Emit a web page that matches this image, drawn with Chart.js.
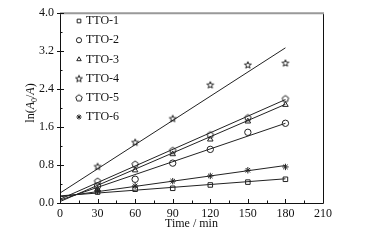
<!DOCTYPE html>
<html>
<head>
<meta charset="utf-8">
<script src="https://cdn.jsdelivr.net/npm/chart.js@4.4.0/dist/chart.umd.min.js"></script>
<style>
  html, body { margin: 0; padding: 0; background: #fff; }
  #wrap { width: 381px; height: 240px; }
</style>
</head>
<body>
<div id="wrap"><canvas id="c" width="381" height="240"></canvas></div>
<script>
// time points (min)
const times = [30, 60, 90, 120, 150, 180];
const seriesNames = ["TTO-1", "TTO-2", "TTO-3", "TTO-4", "TTO-5", "TTO-6"];

// ln(A0/A) values
const tto1 = [0.23, 0.29, 0.31, 0.38, 0.44, 0.50];
const tto2 = [0.36, 0.50, 0.84, 1.13, 1.49, 1.68];
const tto3 = [0.29, 0.69, 1.03, 1.34, 1.72, 2.07];
const tto4 = [0.77, 1.28, 1.78, 2.49, 2.91, 2.95];
const tto5 = [0.46, 0.82, 1.11, 1.44, 1.80, 2.20];
const tto6 = [0.25, 0.36, 0.46, 0.57, 0.69, 0.76];

// fitted lines: value at t=0 and at t=180
const fitX = [0, 180];
const fitStart = [0.15, 0.06, 0.03, 0.21, 0.08, 0.13];
const fitEnd = [0.51, 1.68, 2.08, 3.27, 2.18, 0.79];

const xTicks = [0, 30, 60, 90, 120, 150, 180, 210];
const yTicks = [0.0, 0.8, 1.6, 2.4, 3.2, 4.0];

const FONT = "Liberation Serif, Times New Roman, serif";

// small canvases for the star and pentagon markers
function makeMarker(sides, outer, inner) {
  const c = document.createElement("canvas");
  c.width = 10; c.height = 10;
  const g = c.getContext("2d");
  g.strokeStyle = "#222";
  g.lineWidth = 1;
  g.beginPath();
  const n = inner ? sides * 2 : sides;
  for (let i = 0; i < n; i++) {
    const r = inner && i % 2 === 1 ? inner : outer;
    const a = -Math.PI / 2 + i * Math.PI * 2 / n;
    const px = 5 + r * Math.cos(a), py = 5.3 + r * Math.sin(a);
    if (i === 0) g.moveTo(px, py); else g.lineTo(px, py);
  }
  g.closePath();
  g.stroke();
  return c;
}
const starImg = makeMarker(5, 3.6, 1.5);
const pentImg = makeMarker(5, 3.4, 0);

const styles = ["rect", "circle", "triangle", starImg, pentImg, "star"];
const allData = [tto1, tto2, tto3, tto4, tto5, tto6];

const datasets = [];
allData.forEach(function (vals, i) {
  datasets.push({
    type: "scatter",
    label: seriesNames[i],
    data: times.map(function (t, k) { return { x: t, y: vals[k] }; }),
    pointStyle: styles[i],
    pointRadius: 3.2,
    borderColor: "#222",
    backgroundColor: "rgba(0,0,0,0)",
    borderWidth: 1,
    showLine: false
  });
});
fitStart.forEach(function (s, i) {
  datasets.push({
    type: "line",
    label: "fit" + i,
    data: [{ x: fitX[0], y: s }, { x: fitX[1], y: fitEnd[i] }],
    borderColor: "#222",
    borderWidth: 1,
    pointRadius: 0,
    fill: false
  });
});

// frame, inward ticks, legend and axis titles
const decor = {
  id: "decor",
  afterDraw: function (chart) {
    const ctx = chart.ctx;
    const a = chart.chartArea;
    const xs = chart.scales.x, ys = chart.scales.y;
    ctx.save();
    // frame
    ctx.strokeStyle = "#111";
    ctx.lineWidth = 1;
    ctx.beginPath();
    ctx.moveTo(a.left + 0.5, a.top);
    ctx.lineTo(a.left + 0.5, a.bottom + 0.5);
    ctx.lineTo(a.right + 0.5, a.bottom + 0.5);
    ctx.lineTo(a.right + 0.5, a.top);
    ctx.stroke();
    ctx.strokeStyle = "#999";
    ctx.lineWidth = 2;
    ctx.beginPath();
    ctx.moveTo(a.left, a.top);
    ctx.lineTo(a.right + 1, a.top);
    ctx.stroke();

    // ticks
    ctx.strokeStyle = "#111";
    ctx.lineWidth = 1;
    ctx.beginPath();
    for (let v = 0; v <= 210; v += 15) {
      const px = Math.round(xs.getPixelForValue(v)) + 0.5;
      const len = v % 30 === 0 ? 4 : 2.5;
      ctx.moveTo(px, a.bottom);
      ctx.lineTo(px, a.bottom - len);
    }
    for (let k = 0; k <= 10; k++) {
      const v = k * 0.4;
      const py = Math.round(ys.getPixelForValue(v)) + 0.5;
      const len = k % 2 === 0 ? 4 : 2.5;
      ctx.moveTo(a.left, py);
      ctx.lineTo(a.left + len, py);
      if (k % 2 === 0) { ctx.moveTo(a.left - 3, py); ctx.lineTo(a.left, py); }
    }
    ctx.stroke();

    // legend
    ctx.font = "12px " + FONT;
    ctx.textBaseline = "middle";
    seriesNames.forEach(function (name, i) {
      const y = 21 + i * 19.2;
      ctx.strokeStyle = "#222";
      ctx.fillStyle = "rgba(0,0,0,0)";
      ctx.lineWidth = 1;
      Chart.helpers.drawPoint(ctx, { pointStyle: styles[i], radius: 2.6, borderWidth: 1 }, 79, y);
      ctx.fillStyle = "#111";
      ctx.fillText(name, 86, y);
    });

    // x title
    ctx.fillStyle = "#111";
    ctx.textAlign = "center";
    ctx.textBaseline = "alphabetic";
    ctx.font = "12px " + FONT;
    ctx.fillText("Time / min", (a.left + a.right) / 2, 227);

    // y title: ln(A0/A)
    ctx.translate(34, 103);
    ctx.rotate(-Math.PI / 2);
    const parts = [
      { t: "ln(", f: "12px " + FONT, dy: 0 },
      { t: "A", f: "italic 12px " + FONT, dy: 0 },
      { t: "0", f: "8px " + FONT, dy: 3 },
      { t: "/", f: "12px " + FONT, dy: 0 },
      { t: "A", f: "italic 12px " + FONT, dy: 0 },
      { t: ")", f: "12px " + FONT, dy: 0 }
    ];
    let w = 0;
    parts.forEach(function (p) { ctx.font = p.f; w += ctx.measureText(p.t).width; });
    let x = -w / 2;
    ctx.textAlign = "left";
    parts.forEach(function (p) {
      ctx.font = p.f;
      ctx.fillText(p.t, x, p.dy);
      x += ctx.measureText(p.t).width;
    });
    ctx.restore();
  }
};

new Chart(document.getElementById("c"), {
  data: { datasets: datasets },
  options: {
    responsive: false,
    animation: false,
    layout: { padding: { top: 12, right: 58, left: 0, bottom: 0 } },
    plugins: { legend: { display: false }, tooltip: { enabled: false } },
    scales: {
      x: {
        type: "linear",
        min: 0, max: 210,
        afterBuildTicks: function (s) { s.ticks = xTicks.map(function (v) { return { value: v }; }); },
        afterFit: function (s) { s.height = 37; },
        grid: { display: false, drawTicks: false },
        border: { display: false },
        ticks: { color: "#111", font: { family: FONT, size: 12 }, padding: 4, maxRotation: 0,
                 callback: function (v) { return v; } }
      },
      y: {
        type: "linear",
        min: 0, max: 4,
        afterBuildTicks: function (s) { s.ticks = yTicks.map(function (v) { return { value: v }; }); },
        afterFit: function (s) { s.width = 60; },
        grid: { display: false, drawTicks: false },
        border: { display: false },
        ticks: { color: "#111", font: { family: FONT, size: 12 }, padding: 6,
                 callback: function (v) { return Number(v).toFixed(1); } }
      }
    }
  },
  plugins: [decor]
});
</script>
</body>
</html>
